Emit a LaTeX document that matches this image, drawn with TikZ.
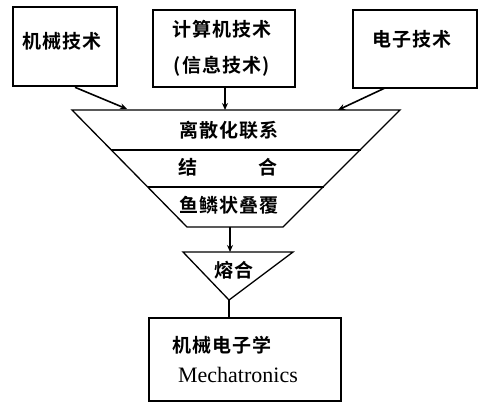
\documentclass[tikz,border=0pt]{standalone}
\usepackage{fontspec}
\setmainfont{Liberation Serif}
\newfontfamily\cjk{Noto Sans CJK SC Bold}[LetterSpace=6]
\usetikzlibrary{arrows.meta}
\tikzset{
  cjklab/.style={font=\cjk\fontsize{19}{22}\selectfont, inner sep=0pt, anchor=center},
  feed/.style={line width=1.6pt, -{Stealth[length=7pt,width=6pt]}},
  thin/.style={line width=1.3pt}
}
\begin{document}
\begin{tikzpicture}[x=1pt,y=-1pt]
\useasboundingbox (0,0) rectangle (485,403);
% top boxes
\node[draw, line width=2.6pt, minimum width=104pt, minimum height=79pt, inner sep=0pt] (b1) at (65,46.5) {};
\node[draw, line width=2.6pt, minimum width=142pt, minimum height=77pt, inner sep=0pt] (b2) at (224,48.5) {};
\node[draw, line width=2.6pt, minimum width=124pt, minimum height=78pt, inner sep=0pt] (b3) at (415,49) {};
\node[cjklab] (t1) at (62,41) {机械技术};
\node[cjklab] (t2a) at (222,29) {计算机技术};
\node[cjklab] (t2b) at (222,66) {(信息技术)};
\node[cjklab] (t3) at (412,39) {电子技术};
% trapezoid
\coordinate (tl) at (72,110);
\coordinate (tr) at (400,110);
\coordinate (br) at (283,227);
\coordinate (bl) at (187,227);
\draw[thin] (tl) -- (tr) -- (br) -- (bl) -- cycle;
\coordinate (d1l) at (111,150);
\coordinate (d1r) at (361,150);
\coordinate (d2l) at (148,187);
\coordinate (d2r) at (324,187);
\draw[thin] (d1l) -- (d1r);
\draw[thin] (d2l) -- (d2r);
\node[cjklab] (r1) at (229,130) {离散化联系};
\node[cjklab] (r2a) at (188,167) {结};
\node[cjklab] (r2b) at (268,167) {合};
\node[cjklab] (r3) at (229,205) {鱼鳞状叠覆};
% arrows in
\coordinate (a1) at (127,109);
\coordinate (a2) at (225,110);
\coordinate (a3) at (338,110);
\draw[feed] (b1.south) ++(10,0) coordinate (s1) -- (a1);
\draw[feed] (b2.south -| a2) -- (a2);
\draw[feed] (385,88) coordinate (s3) -- (a3);
% funnel output
\coordinate (f1) at (230,227);
\coordinate (tt1) at (183,252);
\coordinate (tt2) at (293,252);
\coordinate (tap) at (229,300);
\draw[thin] (tt1) -- (tt2) -- (tap) -- cycle;
\draw[feed, line width=1.3pt] (f1) -- (230,252);
\node[cjklab] (fuse) at (234,270) {熔合};
% bottom box
\node[draw, line width=1.3pt, minimum width=192pt, minimum height=83pt, inner sep=0pt] (mb) at (245,359.5) {};
\draw[thin] (tap) -- (tap |- mb.north);
\node[cjklab, anchor=west] (m1) at (172,345) {机械电子学};
\node[font=\fontsize{22}{26}\selectfont, inner sep=0pt] (m2) at (238,375) {Mechatronics};
\end{tikzpicture}
\end{document}
